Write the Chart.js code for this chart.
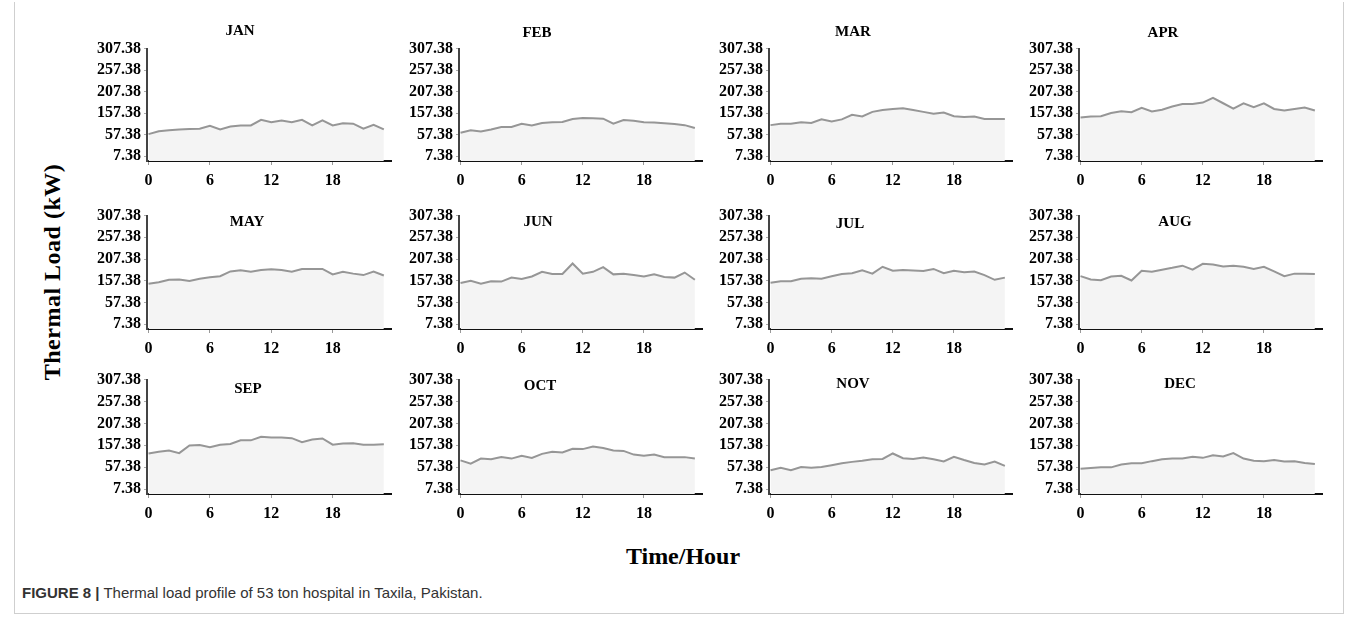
<!DOCTYPE html>
<html>
<head>
<meta charset="utf-8">
<script src="https://cdn.jsdelivr.net/npm/chart.js@4.4.0/dist/chart.umd.min.js"></script>
<style>
  body { margin: 0; background: #fff; width: 1357px; height: 635px; position: relative; overflow: hidden; }
  .frame { position: absolute; left: 14px; top: 2px; width: 1328px; height: 611px; border: 1px solid #cfcfcf; border-top: none; }
  canvas { position: absolute; }
  .mtitle { position: absolute; font: bold 15px 'Liberation Serif', serif; color: #000; transform: translate(-50%, -50%); white-space: nowrap; }
  #ylab { position: absolute; left: 52px; top: 272px; transform: translate(-50%, -50%) rotate(-90deg); font: bold 24px 'Liberation Serif', serif; letter-spacing: 0.5px; white-space: nowrap; }
  #xlab { position: absolute; left: 683px; top: 556px; transform: translate(-50%, -50%); font: bold 24px 'Liberation Serif', serif; white-space: nowrap; }
  #caption { position: absolute; left: 22px; top: 584px; font: 15px 'Liberation Sans', Arial, sans-serif; color: #333; white-space: nowrap; }
  #caption b { color: #333; }
</style>
</head>
<body>
<div class="frame"></div>
<div id="ylab">Thermal Load (kW)</div>
<div id="xlab">Time/Hour</div>
<div id="caption"><b>FIGURE 8 |</b> Thermal load profile of 53 ton hospital in Taxila, Pakistan.</div>
<script>
var months = ["JAN", "FEB", "MAR", "APR", "MAY", "JUN", "JUL", "AUG", "SEP", "OCT", "NOV", "DEC"];
var hours = [0, 1, 2, 3, 4, 5, 6, 7, 8, 9, 10, 11, 12, 13, 14, 15, 16, 17, 18, 19, 20, 21, 22, 23];
var xTickLabels = [0, 6, 12, 18];
// printed labels on the y axis (evenly spaced, as in the figure)
var yTickLabels = ["7.38", "57.38", "157.38", "207.38", "257.38", "307.38"];
var yTickValues = [7.38, 67.38, 127.38, 187.38, 247.38, 307.38];

// thermal load per hour (kW)
var jan = [69, 77, 80, 82, 83, 84, 92, 82, 90, 93, 93, 109, 102, 107, 102, 109, 93, 107, 93, 99, 98, 84, 95, 82];
var feb = [73, 80, 76, 82, 89, 89, 98, 93, 100, 102, 103, 111, 114, 113, 112, 98, 108, 106, 102, 101, 99, 97, 94, 86];
var mar = [94, 98, 98, 102, 100, 110, 104, 110, 123, 118, 131, 136, 139, 141, 136, 131, 126, 129, 119, 117, 118, 111, 111, 111];
var apr = [115, 118, 119, 128, 133, 130, 142, 132, 137, 146, 153, 153, 157, 170, 155, 140, 155, 144, 155, 139, 135, 139, 143, 135];
var may = [119, 123, 130, 131, 127, 133, 137, 140, 153, 156, 152, 157, 159, 157, 152, 160, 160, 160, 145, 152, 147, 143, 153, 142];
var jun = [121, 127, 119, 126, 125, 136, 132, 139, 152, 146, 146, 175, 147, 152, 165, 145, 147, 143, 139, 145, 138, 136, 150, 130];
var jul = [122, 126, 126, 133, 134, 133, 140, 146, 148, 156, 147, 166, 155, 157, 156, 154, 160, 148, 155, 151, 153, 143, 130, 136];
var aug = [140, 131, 129, 139, 141, 128, 155, 152, 158, 163, 169, 158, 174, 172, 167, 169, 166, 160, 166, 153, 140, 147, 147, 146];
var sep = [105, 110, 113, 106, 127, 128, 122, 129, 131, 141, 141, 151, 149, 149, 147, 136, 143, 146, 129, 132, 133, 129, 129, 130];
var oct = [86, 77, 91, 89, 95, 91, 99, 93, 104, 110, 108, 118, 117, 124, 120, 113, 112, 102, 99, 102, 95, 95, 95, 91];
var nov = [59, 66, 59, 68, 66, 68, 73, 78, 82, 85, 89, 90, 105, 92, 90, 94, 89, 83, 96, 87, 79, 75, 83, 71];
var dec = [63, 65, 67, 67, 75, 78, 78, 84, 89, 91, 91, 96, 93, 100, 97, 106, 91, 85, 84, 87, 83, 84, 79, 76];
var series = [jan, feb, mar, apr, may, jun, jul, aug, sep, oct, nov, dec];

// panel plot areas on the page
var rowTop = [44, 211, 375], rowBottom = [161, 329, 494];
var colLeft = [147, 459, 769, 1079], colRight = [391, 702, 1012, 1322];
// month title centres
var titlePos = [[240, 30], [537, 32], [853, 31], [1163, 32],
                [247, 221], [538, 221], [850, 223], [1175, 221],
                [248, 388], [540, 385], [853, 383], [1180, 383]];

var LEFT = 66, TOP = 8, BOTTOM = 34, RIGHT = 4;
var tickFont = { family: 'Liberation Serif', weight: 'bold', size: 16 };

months.forEach(function (name, i) {
    var r = Math.floor(i / 4), c = i % 4;
    var cv = document.createElement('canvas');
    var w = colRight[c] - colLeft[c] + LEFT + RIGHT;
    var h = rowBottom[r] - rowTop[r] + TOP + BOTTOM;
    cv.width = w; cv.height = h;
    cv.style.left = (colLeft[c] - LEFT) + 'px';
    cv.style.top = (rowTop[r] - TOP) + 'px';
    document.body.appendChild(cv);

    var t = document.createElement('div');
    t.className = 'mtitle';
    t.textContent = name;
    t.style.left = titlePos[i][0] + 'px';
    t.style.top = titlePos[i][1] + 'px';
    document.body.appendChild(t);

    new Chart(cv.getContext('2d'), {
        type: 'line',
        data: {
            datasets: [{
                data: hours.map(function (hr, k) { return { x: hr, y: series[i][k] }; }),
                borderColor: 'rgb(150,150,150)',
                borderWidth: 2,
                backgroundColor: 'rgb(244,244,244)',
                fill: 'start',
                pointRadius: 0,
                tension: 0
            }]
        },
        options: {
            responsive: false,
            animation: false,
            layout: { padding: { top: TOP, right: RIGHT, left: 0, bottom: 0 } },
            plugins: { legend: { display: false }, tooltip: { enabled: false } },
            scales: {
                x: {
                    type: 'linear', min: -0.15, max: 23.7,
                    afterBuildTicks: function (s) { s.ticks = xTickLabels.map(function (v) { return { value: v }; }); },
                    afterFit: function (s) { s.height = BOTTOM; },
                    grid: { drawOnChartArea: false, tickLength: 4, color: '#999' },
                    border: { color: '#111', width: 2 },
                    ticks: { font: tickFont, color: '#000', padding: 6, maxRotation: 0, autoSkip: false }
                },
                y: {
                    min: -6, max: 307.38,
                    afterBuildTicks: function (s) { s.ticks = yTickValues.map(function (v) { return { value: v }; }); },
                    afterFit: function (s) { s.width = LEFT; },
                    grid: { drawOnChartArea: false, tickLength: 3, color: '#aaa' },
                    border: { color: '#444', width: 2 },
                    ticks: {
                        font: tickFont, color: '#000', padding: 3, autoSkip: false,
                        callback: function (v, idx) { return yTickLabels[idx]; }
                    }
                }
            }
        }
    });
});
</script>
</body>
</html>
